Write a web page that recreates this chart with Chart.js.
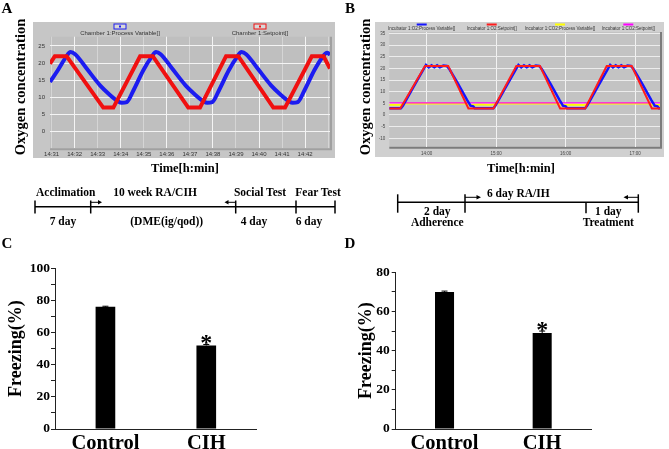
<!DOCTYPE html>
<html>
<head>
<meta charset="utf-8">
<script src="https://cdn.jsdelivr.net/npm/chart.js@4.4.1/dist/chart.umd.min.js"></script>
<style>
  body { margin:0; background:#fff; width:669px; height:449px; position:relative; overflow:hidden; }
  canvas { position:absolute; }
  svg { position:absolute; left:0; top:0; pointer-events:none; }
  svg text { font-family:"Liberation Serif","Times New Roman",serif; font-weight:bold; fill:#000; }
</style>
</head>
<body>
<canvas id="cA" width="302" height="136" style="left:33px;top:22px"></canvas>
<canvas id="cB" width="289" height="135" style="left:375px;top:22px"></canvas>
<canvas id="cC" width="300" height="209" style="left:0px;top:240px"></canvas>
<canvas id="cD" width="339" height="209" style="left:330px;top:240px"></canvas>

<svg width="669" height="449">
  <!-- panel letters -->
  <text x="7" y="8" font-size="15" text-anchor="middle" dominant-baseline="central">A</text>
  <text x="350" y="8" font-size="15" text-anchor="middle" dominant-baseline="central">B</text>
  <text x="7" y="243" font-size="15" text-anchor="middle" dominant-baseline="central">C</text>
  <text x="350" y="243" font-size="15" text-anchor="middle" dominant-baseline="central">D</text>

  <!-- axis titles of the recorder screenshots -->
  <text transform="translate(20,87) rotate(-90)" font-size="14.5" text-anchor="middle" dominant-baseline="central">Oxygen concentration</text>
  <text transform="translate(365,87) rotate(-90)" font-size="14.5" text-anchor="middle" dominant-baseline="central">Oxygen concentration</text>
  <text x="185" y="168" font-size="12.5" text-anchor="middle" dominant-baseline="central">Time[h:min]</text>
  <text x="521" y="168" font-size="12.5" text-anchor="middle" dominant-baseline="central">Time[h:min]</text>

  <!-- timelines -->
  <g stroke="#000" stroke-width="1.5" fill="none">
    <line x1="35" y1="206.7" x2="335" y2="206.7"/>
    <line x1="35" y1="200.5" x2="35" y2="213.5"/>
    <line x1="90.7" y1="200.5" x2="90.7" y2="213.5"/>
    <line x1="235.7" y1="200.5" x2="235.7" y2="213.5"/>
    <line x1="296" y1="200.5" x2="296" y2="213.5"/>
    <line x1="335" y1="200.5" x2="335" y2="213.5"/>
    <line x1="90.7" y1="202.3" x2="99" y2="202.3" stroke-width="1"/>
    <line x1="235.7" y1="202.3" x2="227.5" y2="202.3" stroke-width="1"/>
    <line x1="397.7" y1="202.3" x2="638.3" y2="202.3"/>
    <line x1="397.7" y1="194.3" x2="397.7" y2="212.7"/>
    <line x1="465" y1="194.3" x2="465" y2="212.7"/>
    <line x1="586" y1="202.3" x2="586" y2="213.3"/>
    <line x1="638.3" y1="194.3" x2="638.3" y2="212.7"/>
    <line x1="465" y1="197.3" x2="477" y2="197.3" stroke-width="1"/>
    <line x1="638.3" y1="197.3" x2="627" y2="197.3" stroke-width="1"/>
  </g>
  <g fill="#000">
    <path d="M102 202.3 L98 200 L98 204.6 Z"/>
    <path d="M224.5 202.3 L228.5 200 L228.5 204.6 Z"/>
    <path d="M481 197.3 L476.5 195 L476.5 199.6 Z"/>
    <path d="M623.5 197.3 L628 195 L628 199.6 Z"/>
  </g>
  <g font-size="11.5" text-anchor="middle" dominant-baseline="central">
    <text x="65.7" y="191.7">Acclimation</text>
    <text x="155" y="191.7">10 week RA/CIH</text>
    <text x="260" y="191.7">Social Test</text>
    <text x="318" y="191.7">Fear Test</text>
    <text x="63" y="220.7">7 day</text>
    <text x="166.7" y="220.7">(DME(ig/qod))</text>
    <text x="254" y="220.7">4 day</text>
    <text x="309" y="220.7">6 day</text>
    <text x="518.3" y="193.3">6 day RA/IH</text>
    <text x="437.3" y="211">2 day</text>
    <text x="437.3" y="222.3">Adherence</text>
    <text x="608.3" y="211">1 day</text>
    <text x="608.3" y="222.3">Treatment</text>
  </g>
</svg>

<script>
// ---- panel A: chamber O2 trace, x in minutes after 14:00 ----
const aTickLabels = ['14:31','14:32','14:33','14:34','14:35','14:36','14:37','14:38','14:39','14:40','14:41','14:42'];
const aSetpoint = [
  [30.93,19.8],[31.14,22],[31.65,22],[33.24,7],[33.68,7],[34.84,22],[35.39,22],[36.93,7],
  [37.44,7],[38.57,22],[39.1,22],[40.62,7],[41.13,7],[42.29,22],[42.8,22],[43.08,18.4]
];
const aProcess = [
  [30.93,14.5],[31.27,17.9],[31.63,21.8],[31.82,23.2],[32.02,22.6],[32.52,18.4],[33.1,13.5],
  [33.53,10.7],[33.89,8.8],[34.04,8.4],[34.26,8.6],[34.55,12.0],[34.98,17.9],[35.34,21.8],
  [35.53,23.2],[35.73,22.6],[36.23,18.4],[36.81,13.5],[37.24,10.7],[37.6,8.8],[37.75,8.4],
  [37.97,8.6],[38.26,12.0],[38.69,17.9],[39.05,21.8],[39.24,23.2],[39.44,22.6],[39.94,18.4],
  [40.52,13.5],[40.95,10.7],[41.31,8.8],[41.46,8.4],[41.68,8.6],[41.97,12.0],[42.4,17.9],
  [42.76,21.8],[42.95,23.0],[43.08,22.5]
];

// ---- panel B: incubator trace, x in hours ----
const bTickLabels = ['14:00','15:00','16:00','17:00'];
const bO2Setpoint = [
  [13.46,2.8],[13.62,2.8],[13.976,21],[14.31,21],[14.6,2.8],[14.96,2.8],[15.29,21],[15.63,21],
  [15.92,2.8],[16.28,2.8],[16.59,21],[16.95,21],[17.24,2.8],[17.36,2.8]
];
const bO2Process = [
  [13.46,2.9],[13.63,2.9],[13.66,4.0],[13.8,11.5],[13.99,21.5],[14.03,20.4],[14.07,21.3],[14.11,20.5],
  [14.15,21.3],[14.19,20.5],[14.24,21.2],[14.29,21.0],[14.33,19.5],[14.45,13.5],[14.58,6.5],[14.63,4.0],
  [14.67,3.7],[14.69,2.9],[14.96,2.9],[14.99,4.0],[15.13,11.5],[15.32,21.5],[15.36,20.4],[15.40,21.3],
  [15.44,20.5],[15.48,21.3],[15.52,20.5],[15.57,21.2],[15.62,21.0],[15.66,19.5],[15.78,13.5],[15.91,6.5],
  [15.96,4.0],[16.0,3.7],[16.02,2.9],[16.28,2.9],[16.31,4.0],[16.45,11.5],[16.64,21.5],[16.68,20.4],
  [16.72,21.3],[16.76,20.5],[16.80,21.3],[16.84,20.5],[16.89,21.2],[16.94,21.0],[16.98,19.5],[17.10,13.5],
  [17.23,6.5],[17.28,4.0],[17.32,3.7],[17.34,2.9],[17.36,2.9]
];
const bCO2Process = [
  [13.46,4.4],[13.62,4.4],[13.7,4.9],[14.55,4.9],[14.62,4.3],[14.75,4.6],[14.9,4.4],[15.02,4.9],
  [15.88,4.9],[15.95,4.3],[16.1,4.5],[16.25,4.3],[16.33,4.9],[17.2,4.9],[17.26,4.3],[17.36,4.4]
];
const bCO2Setpoint = [[13.46,5.2],[17.36,5.2]];

// ---- panels C and D: freezing ----
const groups = ['Control','CIH'];
const freezeC = [76, 52];
const errC = [0.4, 0.6];
const freezeD = [70, 49];
const errD = [0.4, 1.0];
const sigMarks = ['', '*'];

const pts = arr => arr.map(([x, y]) => ({x, y}));
const sans = 'Liberation Sans';
const serif = 'Liberation Serif';

// gray recorder background
function framePlugin(outer, inner, edge) {
  return {
    id: 'frame',
    beforeDraw(chart) {
      const {ctx, width, height, chartArea: a} = chart;
      ctx.save();
      ctx.fillStyle = outer;
      ctx.fillRect(0, 0, width, height);
      ctx.fillStyle = inner;
      ctx.fillRect(a.left, a.top, a.right - a.left, a.bottom - a.top);
      ctx.strokeStyle = edge;
      ctx.lineWidth = 2;
      ctx.beginPath();
      ctx.moveTo(a.left, a.bottom + 1);
      ctx.lineTo(a.right + 1, a.bottom + 1);
      ctx.lineTo(a.right + 1, a.top);
      ctx.stroke();
      ctx.restore();
    }
  };
}

// small legend above the plot: icon above each label
const topLegend = {
  id: 'topLegend',
  afterDraw(chart, args, o) {
    const {ctx} = chart;
    ctx.save();
    ctx.font = o.size + 'px ' + sans;
    ctx.textAlign = 'center';
    ctx.textBaseline = 'middle';
    chart.data.datasets.forEach((ds, i) => {
      const x = o.xs[i];
      if (o.boxed) {
        ctx.fillStyle = '#d8d8d8';
        ctx.fillRect(x - 6, o.iconY - 2.5, 12, 5);
        ctx.strokeStyle = ds.borderColor;
        ctx.lineWidth = 1;
        ctx.strokeRect(x - 6, o.iconY - 2.5, 12, 5);
        ctx.fillStyle = ds.borderColor;
        ctx.fillRect(x - 1, o.iconY - 1, 2, 2);
      } else {
        ctx.fillStyle = ds.borderColor;
        ctx.fillRect(x - 5, o.iconY - 1, 10, 2);
      }
      ctx.fillStyle = '#333';
      ctx.fillText(ds.label, x, o.textY);
    });
    ctx.restore();
  }
};

// error caps and significance marks on the bars
const errBars = {
  id: 'errBars',
  afterDatasetsDraw(chart, args, o) {
    const {ctx} = chart;
    const y = chart.scales.y;
    const vals = chart.data.datasets[0].data;
    ctx.save();
    ctx.strokeStyle = '#000';
    ctx.fillStyle = '#000';
    ctx.lineWidth = 1;
    chart.getDatasetMeta(0).data.forEach((bar, i) => {
      const top = y.getPixelForValue(vals[i] + o.err[i]);
      ctx.beginPath();
      ctx.moveTo(bar.x, bar.y);
      ctx.lineTo(bar.x, top);
      ctx.moveTo(bar.x - 3, top);
      ctx.lineTo(bar.x + 3, top);
      ctx.stroke();
      if (o.marks[i]) {
        ctx.font = 'bold 24px ' + serif;
        ctx.textAlign = 'center';
        ctx.textBaseline = 'alphabetic';
        ctx.fillText(o.marks[i], bar.x, top + 6);
      }
    });
    ctx.restore();
  }
};

const base = {
  responsive: false,
  animation: false,
  devicePixelRatio: 1,
  events: []
};

// A
new Chart(document.getElementById('cA'), {
  type: 'line',
  data: {
    datasets: [
      { label: 'Chamber 1:Process Variable[]', data: pts(aProcess), borderColor: '#1c1cf0',
        borderWidth: 4, pointRadius: 0, cubicInterpolationMode: 'monotone', order: 1 },
      { label: 'Chamber 1:Setpoint[]', data: pts(aSetpoint), borderColor: '#f01010',
        borderWidth: 4, pointRadius: 0, tension: 0, order: 0 }
    ]
  },
  options: {
    ...base,
    layout: { padding: { top: 14.7, right: 5, left: 0, bottom: 0 } },
    plugins: {
      legend: { display: false }, tooltip: { enabled: false },
      topLegend: { xs: [87, 227], iconY: 4.5, textY: 11, size: 6, boxed: true }
    },
    scales: {
      x: {
        type: 'linear', min: 30.93, max: 43.08,
        afterFit(s) { s.height = 9.7; },
        ticks: { stepSize: 1, includeBounds: false, autoSkip: false, maxRotation: 0, padding: 2,
                 font: { family: sans, size: 6 }, color: '#333',
                 callback: v => aTickLabels[v - 31] ?? '' },
        grid: { drawTicks: false, lineWidth: 1,
                color: c => (c.tick && c.tick.value % 2 === 0) ? '#f4f4f4' : 'rgba(255,255,255,0.35)' },
        border: { display: false }
      },
      y: {
        min: -4.9, max: 27.7,
        afterFit(s) { s.width = 17; },
        ticks: { stepSize: 5, includeBounds: false, padding: 5, font: { family: sans, size: 6 }, color: '#333' },
        grid: { drawTicks: false, color: '#f4f4f4' },
        border: { display: false }
      }
    }
  },
  plugins: [framePlugin('#c6c6c6', '#bfbfbf', '#a0a0a0'), topLegend]
});

// B
new Chart(document.getElementById('cB'), {
  type: 'line',
  data: {
    datasets: [
      { label: 'Incubator 1:O2:Process Variable[]', data: pts(bO2Process), borderColor: '#1515ff',
        borderWidth: 2.5, pointRadius: 0, tension: 0, order: 1 },
      { label: 'Incubator 1:O2:Setpoint[]', data: pts(bO2Setpoint), borderColor: '#ff1c1c',
        borderWidth: 2, pointRadius: 0, tension: 0, order: 0 },
      { label: 'Incubator 1:CO2:Process Variable[]', data: pts(bCO2Process), borderColor: '#ffff00',
        borderWidth: 2, pointRadius: 0, tension: 0, order: 3 },
      { label: 'Incubator 1:CO2:Setpoint[]', data: pts(bCO2Setpoint), borderColor: '#ff00ff',
        borderWidth: 1.2, pointRadius: 0, tension: 0, order: 2 }
    ]
  },
  options: {
    ...base,
    layout: { padding: { top: 10, right: 4, left: 0, bottom: 0 } },
    plugins: {
      legend: { display: false }, tooltip: { enabled: false },
      topLegend: { xs: [46.7, 116.7, 185, 253.3], iconY: 2.5, textY: 6.5, size: 4.5, boxed: false }
    },
    scales: {
      x: {
        type: 'linear', min: 13.462, max: 17.357,
        afterFit(s) { s.height = 10.3; },
        ticks: { stepSize: 1, includeBounds: false, autoSkip: false, maxRotation: 0, padding: 4.5,
                 font: { family: sans, size: 4.5 }, color: '#444',
                 callback: v => bTickLabels[v - 14] ?? '' },
        grid: { drawTicks: false, color: '#f2f2f2' },
        border: { display: false }
      },
      y: {
        min: -13.6, max: 35.6,
        afterFit(s) { s.width = 14.3; },
        ticks: { stepSize: 5, includeBounds: false, autoSkip: false, padding: 4,
                 font: { family: sans, size: 4.5 }, color: '#444' },
        grid: { drawTicks: false, color: '#ececec' },
        border: { display: false }
      }
    }
  },
  plugins: [framePlugin('#d0d0d0', '#c3c3c3', '#7c7c7c'), topLegend]
});

// C / D bar charts
function barChart(id, values, errs, max, padTop, padRight, yWidth, titlePad, tickPad) {
  return new Chart(document.getElementById(id), {
    type: 'bar',
    data: {
      labels: groups,
      datasets: [{ data: values, backgroundColor: '#000', barPercentage: 0.195, categoryPercentage: 1 }]
    },
    options: {
      ...base,
      layout: { padding: { top: padTop, right: padRight, left: 0, bottom: 0 } },
      plugins: {
        legend: { display: false }, tooltip: { enabled: false },
        errBars: { err: errs, marks: sigMarks }
      },
      scales: {
        x: {
          afterFit(s) { s.height = 20; },
          grid: { display: false },
          border: { color: '#222', width: 1 },
          ticks: { padding: -5.5, color: '#000', font: { family: serif, size: 20.5, weight: 'bold' } }
        },
        y: {
          min: 0, max: max,
          afterFit(s) { s.width = yWidth; },
          ticks: { stepSize: 10, autoSkip: false, padding: tickPad, color: '#000',
                   font: { family: serif, size: 13.5, weight: 'bold' },
                   callback: v => (v % 20 === 0 ? v : '') },
          grid: { drawOnChartArea: false, tickLength: 4, color: '#222' },
          border: { color: '#222', width: 1 },
          title: { display: true, text: 'Freezing(%)', color: '#000',
                   font: { family: serif, size: 18, weight: 'bold' },
                   padding: { top: titlePad, bottom: 0 } }
        }
      }
    },
    plugins: [errBars]
  });
}

barChart('cC', freezeC, errC, 100, 28.3, 43.3, 55, 5.9, 1);
barChart('cD', freezeD, errD, 80, 32.3, 78, 65.7, 25.9, 2);
</script>
</body>
</html>
